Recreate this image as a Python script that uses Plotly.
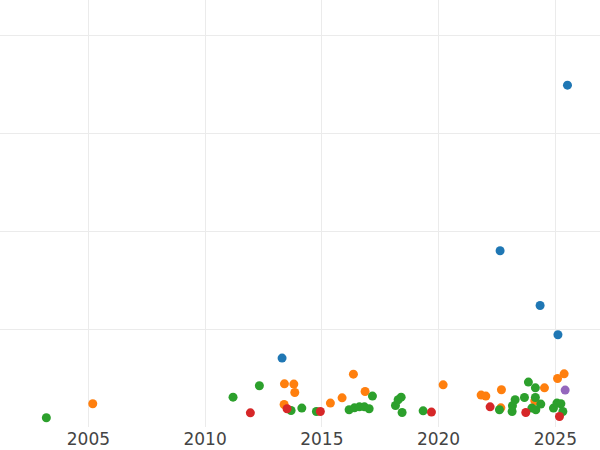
import plotly.graph_objects as go

# dates and values, one pair of lists per group
blue_dates = ["2013-04-19", "2022-08-21", "2024-05-08", "2025-02-11", "2025-07-10"]
blue_vals = [7.04, 18.0, 12.41, 9.42, 34.92]

orange_dates = [
    "2005-03-10", "2013-05-26", "2013-10-20", "2013-11-04", "2013-05-21",
    "2015-05-15", "2015-11-14", "2016-05-09", "2016-11-08", "2020-03-13",
    "2021-10-28", "2022-01-10", "2022-09-11", "2022-09-02", "2024-07-15",
    "2024-02-15", "2025-02-05", "2025-05-19",
]
orange_vals = [
    2.37, 4.41, 4.38, 3.52, 2.30,
    2.44, 2.98, 5.40, 3.63, 4.31,
    3.26, 3.16, 3.80, 1.96, 4.00,
    2.68, 4.95, 5.43,
]

green_dates = [
    "2003-03-15", "2011-03-14", "2012-04-29", "2013-09-07", "2014-02-22",
    "2014-10-08", "2016-03-03", "2016-05-25", "2016-08-11", "2016-10-28",
    "2017-01-10", "2017-03-03", "2018-02-26", "2018-04-09", "2018-05-26",
    "2018-06-10", "2019-05-05", "2022-08-11", "2023-02-25", "2023-03-02",
    "2023-04-13", "2023-09-06", "2023-11-07", "2024-02-24", "2024-02-24",
    "2024-05-19", "2023-12-31", "2024-03-02", "2024-12-03", "2025-01-26",
    "2025-03-29", "2025-04-29",
]
green_vals = [
    0.94, 3.05, 4.21, 1.69, 1.93,
    1.58, 1.76, 1.96, 2.06, 2.06,
    1.86, 3.16, 2.20, 2.78, 3.05,
    1.48, 1.65, 1.76, 1.58, 2.17,
    2.78, 3.01, 4.59, 4.00, 3.01,
    2.34, 1.93, 1.76, 1.93, 2.44,
    2.37, 1.58,
]

red_dates = ["2011-12-10", "2013-07-06", "2014-12-09", "2019-09-12", "2022-03-18", "2023-09-27", "2025-03-07"]
red_vals = [1.45, 1.86, 1.58, 1.52, 2.06, 1.48, 1.07]

purple_dates = ["2025-06-04"]
purple_vals = [3.77]

groups = [
    ("A", blue_dates, blue_vals, "#1f77b4"),
    ("B", orange_dates, orange_vals, "#ff7f0e"),
    ("C", green_dates, green_vals, "#2ca02c"),
    ("D", red_dates, red_vals, "#d62728"),
    ("E", purple_dates, purple_vals, "#9467bd"),
]

fig = go.Figure()
for name, xs, ys, color in groups:
    fig.add_trace(
        go.Scatter(
            x=xs,
            y=ys,
            mode="markers",
            name=name,
            marker=dict(size=9, color=color),
        )
    )

fig.update_layout(
    width=600,
    height=450,
    showlegend=False,
    margin=dict(l=0, r=0, t=0, b=23),
    plot_bgcolor="white",
    paper_bgcolor="white",
    font=dict(family="DejaVu Sans", size=17, color="#444"),
    xaxis=dict(
        type="date",
        range=["2001-03-20", "2026-12-01"],
        dtick="M60",
        tickformat="%Y",
        showgrid=True,
        gridcolor="#ebebeb",
        zeroline=False,
        showline=False,
        ticks="",
    ),
    yaxis=dict(
        range=[0, 43.62],
        dtick=10,
        showgrid=True,
        gridcolor="#ebebeb",
        zeroline=False,
        showticklabels=False,
        ticks="",
    ),
)

# drop the browser's default body margin so the figure sits flush in the window
fig.write_html(
    "out.html",
    config={"displayModeBar": False},
    post_script="document.body.style.margin='0';",
)
